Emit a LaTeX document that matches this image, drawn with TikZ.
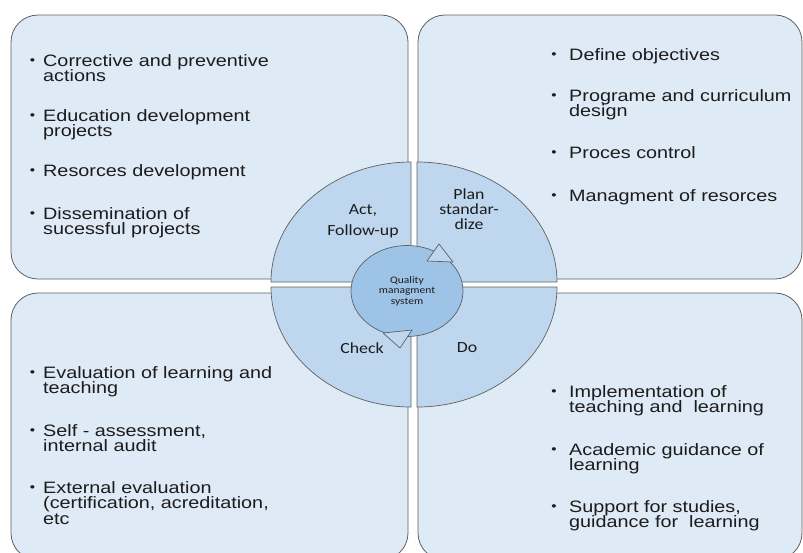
\documentclass[tikz,border=0pt]{standalone}
\usepackage{fontspec}
\setmainfont{Liberation Sans}[FakeStretch=1.2]
\newfontfamily\calfont{Carlito}[FakeStretch=1.15]
\usetikzlibrary{shapes.geometric}

\definecolor{panelblue}{RGB}{222,234,246}
\definecolor{quarterblue}{RGB}{190,215,238}
\definecolor{hubblue}{RGB}{157,195,230}
\definecolor{edgegray}{RGB}{96,96,96}
\definecolor{inkgray}{RGB}{28,28,28}

\newcommand{\bul}[1][8pt]{\llap{\raisebox{1.5pt}{\fontsize{12.5}{12}\selectfont •}\hspace{#1}}}

\tikzset{
  panel/.style={draw=edgegray, fill=panelblue, line width=0.8pt, rounded corners=27pt},
  quarter/.style={draw=edgegray, fill=quarterblue, line width=0.7pt},
  pointer/.style={draw=edgegray, fill=quarterblue, line width=0.7pt, line join=round},
  hub/.style={ellipse, draw=edgegray, fill=hubblue, line width=0.7pt,
    minimum width=112pt, minimum height=91pt, inner sep=0pt, align=center,
    text=inkgray, font={\calfont\fontsize{10}{10.5}\selectfont}},
  phase/.style={align=center, inner sep=0pt, text=inkgray,
    font={\calfont\fontsize{15.5}{15}\selectfont}},
  % base anchor of a multi-line node = baseline of its last line
  itemtext/.style={anchor=base west, align=left, inner sep=0pt, text=inkgray,
    font={\fontsize{16.5}{15.5}\selectfont\lineskiplimit=-20pt}}
}

\begin{document}
\begin{tikzpicture}[x=1pt, y=-1pt]

  \useasboundingbox (0,0) rectangle (803,552);

  % four panels
  \draw[panel] (11,15)   rectangle (408,279);
  \draw[panel] (418,15)  rectangle (802,279);
  \draw[panel] (11,293)  rectangle (408,560);
  \draw[panel] (418,293) rectangle (802,560);

  % quarter ellipses
  \draw[quarter] (411,282) -- (411,162) arc[start angle=270, end angle=180, x radius=140, y radius=120] -- cycle;
  \draw[quarter] (417,282) -- (417,162) arc[start angle=270, end angle=360, x radius=140, y radius=120] -- cycle;
  \draw[quarter] (411,287) -- (411,407) arc[start angle=90, end angle=180, x radius=140, y radius=120] -- cycle;
  \draw[quarter] (417,287) -- (417,407) arc[start angle=90, end angle=0, x radius=140, y radius=120] -- cycle;

  \node[phase] (act)   at (363,221) {Act,\\[6pt]Follow-up};
  \node[phase] (plan)  at (469,209) {Plan\\standar-\\dize};
  \node[phase] (check) at (362,348) {Check};
  \node[phase] (do)    at (467,348) {Do};

  % centre
  \node[hub] (qms) at (407,291) {Quality\\managment\\system};
  \draw[pointer] (427,261) -- (453,262) -- (439,244) -- cycle;
  \draw[pointer] (383,333) -- (412,330) -- (400,348) -- cycle;

  % act
  \node[itemtext] (act1) at (43,81.5)  {\bul Corrective and preventive\\actions};
  \node[itemtext] (act2) at (43,136.5) {\bul Education development\\projects};
  \node[itemtext] (act3) at (43,176)   {\bul Resorces development};
  \node[itemtext] (act4) at (43,234.5) {\bul Dissemination of\\sucessful projects};

  % plan
  \node[itemtext] (plan1) at (569,60)    {\bul[12.5pt]Define objectives};
  \node[itemtext] (plan2) at (569,116.5) {\bul[12.5pt]Programe and curriculum\\design};
  \node[itemtext] (plan3) at (569,158)   {\bul[12.5pt]Proces control};
  \node[itemtext] (plan4) at (569,201)   {\bul[12.5pt]Managment of resorces};

  % check
  \node[itemtext] (check1) at (43,393.5) {\bul Evaluation of learning and\\teaching};
  \node[itemtext] (check2) at (43,451.5) {\bul Self - assessment,\\internal audit};
  \node[itemtext] (check3) at (43,524)   {\bul External evaluation\\(certification, acreditation,\\etc};

  % do
  \node[itemtext] (do1) at (569,412.5) {\bul[12.5pt]Implementation of\\teaching and \ learning};
  \node[itemtext] (do2) at (569,470.5) {\bul[12.5pt]Academic guidance of\\learning};
  \node[itemtext] (do3) at (569,527.5) {\bul[12.5pt]Support for studies,\\guidance for \ learning};

\end{tikzpicture}
\end{document}
